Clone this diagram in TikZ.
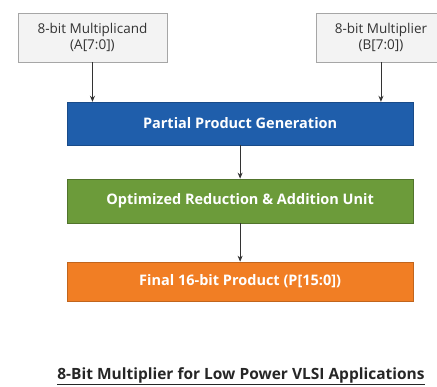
\documentclass[tikz,border=0pt]{standalone}
\usepackage{fontspec}
\setmainfont{Open Sans}
\usepackage{xcolor}
\usepackage{tikz}
\usetikzlibrary{arrows.meta, positioning}

\definecolor{ppblue}{RGB}{31,94,171}
\definecolor{ppgreen}{RGB}{108,155,58}
\definecolor{pporange}{RGB}{241,126,36}
\definecolor{inputgray}{RGB}{243,243,243}

\begin{document}
\begin{tikzpicture}[
    input/.style={rectangle, draw=gray!70, fill=inputgray, minimum height=1.72cm, inner sep=0pt, align=center, text=black!80, font=\fontsize{13.5}{15.5}\selectfont},
    stage/.style={rectangle, minimum width=12.16cm, inner sep=0pt, align=center, text=white, font=\fontsize{14.5}{17}\selectfont\bfseries},
    arrow/.style={-{Stealth[length=6pt, width=5pt]}, black!80, thick}
]
    \useasboundingbox (0, 0) rectangle (15.36, -13.60);

    % Inputs
    \node[input, minimum width=5.24cm] (mcand) at (3.25, -1.32) {8-bit Multiplicand\\(A[7:0])};
    \node[input, minimum width=4.57cm] (mplier) at (13.39, -1.32) {8-bit Multiplier\\(B[7:0])};

    % Datapath stages
    \node[stage, fill=ppblue, draw=ppblue!80!black, minimum height=1.51cm] (ppgen) at (8.44, -4.34) {Partial Product Generation};
    \node[stage, fill=ppgreen, draw=ppgreen!75!black, minimum height=1.55cm] (reduce) at (8.44, -7.06) {Optimized Reduction \& Addition Unit};
    \node[stage, fill=pporange, draw=pporange!80!black, minimum height=1.37cm] (product) at (8.44, -9.89) {Final 16-bit Product (P[15:0])};

    % Title
    \node[text=black!85, font=\fontsize{15.5}{18}\selectfont\bfseries] (title) at (8.47, -13.22) {\underline{8-Bit Multiplier for Low Power VLSI Applications}};

    % Arrows
    \draw[arrow] (mcand.south) -- (mcand.south |- ppgen.north);
    \draw[arrow] (mplier.south) -- (mplier.south |- ppgen.north);
    \draw[arrow] (ppgen) -- (reduce);
    \draw[arrow] (reduce) -- (product);
\end{tikzpicture}
\end{document}
